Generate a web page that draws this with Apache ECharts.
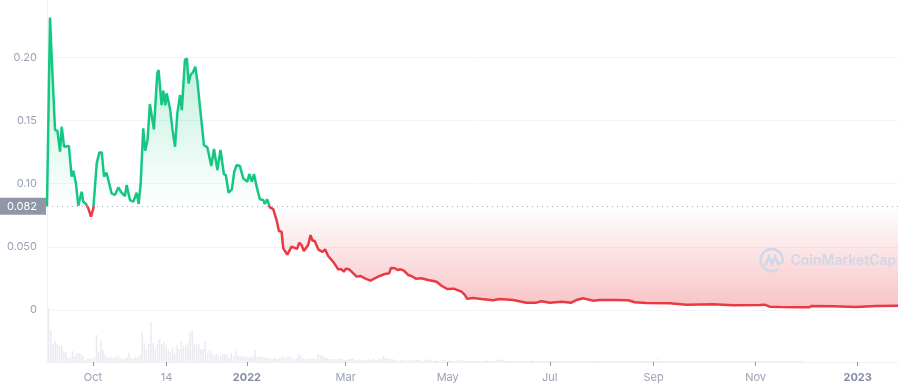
<!DOCTYPE html>
<html><head><meta charset="utf-8">
<style>html,body{margin:0;padding:0;background:#fff}#c{width:900px;height:388px}</style>
<script src="https://cdn.jsdelivr.net/npm/echarts@6/dist/echarts.min.js"></script>
</head><body><div id="c"></div>
<script>
// Days since the start of the chart (early Sep 2021) and price in USD
const priceDays = [0,1.8,2.8,4.8,6.2,7.8,8.8,10.2,11.2,13.1,14.7,15.7,17.3,18.7,20.7,21.7,23.3,24.7,26.3,27.7,29.7,31.3,32.7,34.1,35.6,38.6,40.6,42.6,44.6,46.6,47.6,49.6,51.6,53.6,54.8,56,57.5,58.7,60.1,61.5,63.9,65.9,66.7,68.5,69.5,70.7,71.5,73.5,74.9,76.5,77.9,79.5,80.6,82.4,83.6,84.6,85.8,87.4,88.6,89.8,91.4,93.8,95.8,98.2,99.8,101.8,103.7,105.7,106.9,108.5,110.5,111.9,113.3,115.3,117.3,119.7,120.9,122.5,123.7,125.3,127.2,129.2,130.2,131.6,133.2,135.2,137.2,138.6,140.2,141.2,143.6,146.2,149.5,150.7,152.1,153.5,156.1,157.5,158.7,159.9,162.1,164.7,166.2,168,171,173,174,176,177.4,178.6,180.6,182.6,185,187.4,190,193.4,195.9,197.9,198.9,201.9,204.5,205.5,207.9,209.5,211.3,213.3,215.8,217.8,220.4,223.8,227.8,232.8,235.8,239.2,243.1,247.7,249.7,251.1,254.7,259.7,266.6,270.6,276.6,278.6,286.5,292.5,295.5,300.5,307.5,313.4,316.4,320.4,326.3,330.3,340.3,347.3,351.3,358.2,372.2,382.1,398,410,425.9,428.9,431.9,437.9,449.8,455.4,456.8,469.8,483.7,495.7,508.6];
const priceValues = [0.082,0.2315,0.2004,0.1424,0.1419,0.1253,0.145,0.1292,0.1279,0.1297,0.1055,0.1102,0.1002,0.0825,0.0936,0.0857,0.0839,0.0804,0.0738,0.0804,0.116,0.1247,0.1247,0.1055,0.1086,0.0923,0.091,0.097,0.0928,0.0902,0.0989,0.087,0.0857,0.0928,0.0839,0.1002,0.1437,0.1261,0.1345,0.163,0.1429,0.1872,0.1899,0.1622,0.1735,0.1619,0.1714,0.1595,0.1437,0.1292,0.1556,0.1701,0.1582,0.1978,0.1991,0.1793,0.1859,0.1886,0.1925,0.182,0.1609,0.1305,0.1287,0.1139,0.1274,0.1108,0.1266,0.1076,0.1068,0.0928,0.0955,0.1094,0.1147,0.1139,0.1042,0.1015,0.1076,0.1015,0.1076,0.0976,0.0876,0.087,0.0839,0.0876,0.0812,0.0799,0.0712,0.0625,0.0619,0.0488,0.0438,0.0501,0.0483,0.0532,0.0514,0.0467,0.0514,0.0593,0.0548,0.0548,0.048,0.0459,0.048,0.0427,0.0382,0.0343,0.0322,0.0322,0.0303,0.0327,0.0322,0.0295,0.0264,0.0269,0.0251,0.0232,0.0251,0.0264,0.0251,0.0285,0.029,0.0332,0.033,0.0316,0.0322,0.0311,0.0277,0.0269,0.0248,0.0251,0.0237,0.0224,0.0192,0.0166,0.0169,0.0145,0.0119,0.0089,0.0095,0.0087,0.0077,0.0087,0.0081,0.0079,0.0058,0.0058,0.0069,0.0058,0.0066,0.0058,0.0079,0.0093,0.0074,0.0079,0.0079,0.0077,0.0061,0.0055,0.0053,0.0042,0.0045,0.0037,0.004,0.0042,0.0026,0.0024,0.0021,0.0021,0.0032,0.0029,0.0024,0.0032,0.0034];
// Volume bars, one every 1.3 days from day 1 (relative units)
const volumeValues = [54,32,18,21,18,16,16,10,10,4,5,11,6,9,9,8,6,2,4,3,3,5,27,10,22,12,7,5,4,5,4,5,6,4,3,3,5,9,4,3,5,5,7,30,19,12,18,40,19,14,18,23,18,20,16,12,10,14,9,17,13,20,16,17,19,30,32,18,17,18,13,13,20,9,12,9,6,8,6,6,8,8,7,4,9,6,11,7,6,5,6,5,4,5,6,12,5,6,5,5,4,4,4,3,4,3,4,5,5,4,6,5,4,3,4,8,6,3,3,3,3,4,3,3,8,7,6,5,4,3,3,3,3,3,4,3,2,2,3,3,4,2,2,3,2,2,2,3,2,3,2,2,3,3,6,4,3,3,3,2,2,1,2,2,2,1,2,1,2,2,2,1,1,2,2,3,2,1,2,1,1,2,2,1,2,1,1,1,2,1,2,1,1,2,1,1,2,1,1,1,1,2,1,1,1,1,2,2,3,2,2,1,1,1,1,1,1,1,1,1,1,1,2,1,1,1,1,1,1,1,1,1,1,2,1,1,1,1,1,1,1,1,1,1,1,1,1,1,1,1,1,1,2,1,1,1,1,1,1,1,1,1,1,1,1,1,1,1,1,1,1,1,1,2,1,1,1,1,1,1,3,1,1,1,1,1,1,1,1,1,1,1,1,1,1,1,1,1,1,1,1,1,1,1,1,1,1,1,1,1,1,1,1,1,1,1,1,1,1,1,1,1,1,1,1,1,1,1,1,1,1,1,1,1,1,1,1,1,1,1,1,1,1,1,1,1,1,1];
const xTickDays = [27.5,71.5,119.5,178.5,239.5,300.5,362.5,423.5,484.5];
const xTickLabels = ['Oct','14','2022','Mar','May','Jul','Sep','Nov','2023'];
const yTickValues = [0,0.05,0.1,0.15,0.2];
const yTickLabels = ['0','0.050','0.10','0.15','0.20'];
const baseValue = 0.082;
const baseLabel = '0.082';

const GREEN='#16c784', RED='#ea3943', FONT='Inter, sans-serif', LABEL='#9aa1b5', GRID='#f3f4f7', MARK='#cfd8e6';
const vMax=Math.max(...priceValues), vMin=Math.min(...priceValues);
const baseStop=(vMax-baseValue)/(vMax-vMin);
const lastDay=priceDays[priceDays.length-1];
const logoArc=[];
for(let a=55;a<=380;a+=10){const t=a*Math.PI/180;logoArc.push([11*Math.cos(t),11*Math.sin(t)]);}
const chart=echarts.init(document.getElementById('c'),null,{renderer:'canvas'});
chart.setOption({
  animation:false,
  backgroundColor:'#fff',
  grid:[{left:47,right:2,top:0,height:310},{left:47,right:2,top:305,height:57}],
  xAxis:[
    {type:'value',gridIndex:0,min:0,max:lastDay,show:false,splitLine:{show:false}},
    {type:'value',gridIndex:1,min:0,max:lastDay,splitLine:{show:false},
      axisLine:{show:true,onZero:false,lineStyle:{color:'#eff1f5'}},
      axisTick:{show:true,length:4,customValues:xTickDays,lineStyle:{color:'#8f95a8'}},
      axisLabel:{customValues:xTickDays,margin:10,fontFamily:FONT,fontSize:11,color:LABEL,
        formatter:v=>{const s=xTickLabels[xTickDays.indexOf(v)];return /^20/.test(s)?'{b|'+s+'}':s;},
        rich:{b:{fontFamily:FONT,fontSize:11,fontWeight:'bold',color:'#858ca2'}}}}
  ],
  yAxis:[
    {type:'value',gridIndex:0,min:0,max:0.2453,
      axisLine:{show:true,lineStyle:{color:'#f1f3f6'}},
      axisTick:{show:false,customValues:yTickValues},
      axisLabel:{customValues:yTickValues,margin:10,fontFamily:FONT,fontSize:11,color:LABEL,
        formatter:v=>yTickLabels[yTickValues.indexOf(v)]},
      splitLine:{show:true,lineStyle:{color:GRID,width:1}}},
    {type:'value',gridIndex:1,min:0,max:57,show:true,axisLabel:{show:false},axisTick:{show:false},
      axisLine:{show:true,lineStyle:{color:'#f1f3f6'}},splitLine:{show:false}}
  ],
  visualMap:{show:false,type:'piecewise',seriesIndex:0,dimension:1,
    pieces:[{min:-1,max:baseValue,color:RED},{min:baseValue,max:1,color:GREEN}]},
  series:[
    {type:'line',xAxisIndex:0,yAxisIndex:0,symbol:'none',smooth:false,z:3,
      data:priceDays.map((d,i)=>[d,priceValues[i]]),
      lineStyle:{width:2.5},
      areaStyle:{origin:baseValue,opacity:1,color:{type:'linear',x:0,y:0,x2:0,y2:1,colorStops:[
        {offset:0,color:'rgba(22,199,132,0.34)'},
        {offset:baseStop,color:'rgba(22,199,132,0)'},
        {offset:baseStop,color:'rgba(234,57,67,0)'},
        {offset:1,color:'rgba(234,57,67,0.3)'}]}},
      markLine:{silent:true,symbol:'none',animation:false,precision:4,
        data:[{yAxis:baseValue}],
        lineStyle:{type:[1,4],color:'#a6acbc',width:1},
        label:{show:true,position:'start',distance:1,formatter:baseLabel,color:'#fff',
          backgroundColor:'#8f96a6',padding:[3,9],fontFamily:FONT,fontSize:11}}},
    {type:'bar',xAxisIndex:1,yAxisIndex:1,barWidth:1.5,z:1,
      data:volumeValues.map((v,i)=>[1+i*1.3,v]),
      itemStyle:{color:'#e9ebf1'}}
  ],
  graphic:[
    {type:'polyline',x:771.7,y:260,silent:true,z:5,shape:{points:logoArc},
      style:{stroke:MARK,lineWidth:2.6,fill:null}},
    {type:'polyline',x:771.7,y:260,silent:true,z:5,
      shape:{points:[[-6.5,6],[-2.7,-3.3],[0,4],[3.3,-3.3],[6.7,4],[11,2]]},
      style:{stroke:MARK,lineWidth:2.6,fill:null}},
    {type:'text',x:790.5,y:261,silent:true,z:5,
      style:{text:'CoinMarketCap',fill:MARK,font:'600 14px Inter, sans-serif',textVerticalAlign:'middle'}}
  ]
});
</script></body></html>
